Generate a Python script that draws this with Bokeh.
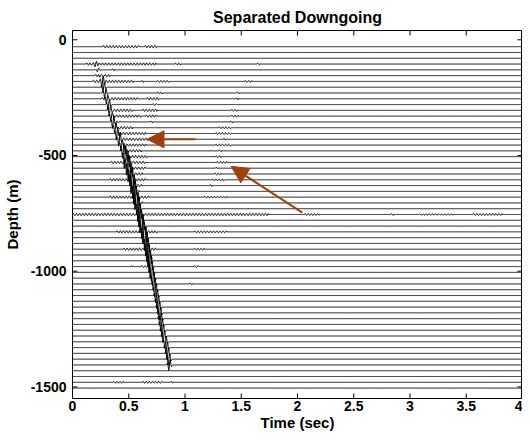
import numpy as np
from bokeh.plotting import figure
from bokeh.models import Arrow, NormalHead, FixedTicker, Range1d, ColumnDataSource
from bokeh.embed import file_html
from bokeh.resources import INLINE

# ---------------- data ----------------
depths = [-30, -55, -80, -105, -130, -155, -180, -205, -230, -255,
          -280, -305, -330, -355, -380, -405, -430, -455, -480, -505,
          -530, -555, -580, -605, -630, -655, -680, -705, -730, -755,
          -780, -805, -830, -855, -880, -905, -930, -955, -980, -1005,
          -1030, -1055, -1080, -1105, -1130, -1155, -1180, -1205, -1230, -1255,
          -1280, -1305, -1330, -1355, -1380, -1405, -1430, -1455, -1480, -1505]

# first-arrival time (s) on each trace and its amplitude (m)
direct_times = [0.0, 0.0, 0.0, 0.20, 0.22, 0.24, 0.26, 0.27, 0.285, 0.30,
                0.315, 0.325, 0.34, 0.355, 0.375, 0.39, 0.41, 0.43, 0.445, 0.46,
                0.48, 0.495, 0.51, 0.52, 0.535, 0.545, 0.555, 0.57, 0.58, 0.59,
                0.60, 0.615, 0.625, 0.64, 0.65, 0.66, 0.67, 0.68, 0.69, 0.70,
                0.71, 0.72, 0.73, 0.74, 0.75, 0.76, 0.77, 0.775, 0.785, 0.795,
                0.805, 0.82, 0.83, 0.84, 0.85, 0.855, 0.0, 0.0, 0.0, 0.0]
direct_amps = [0, 0, 0, 8, 8, 8, 22, 22, 22, 22,
               24, 24, 24, 28, 28, 28, 30, 30, 32, 50,
               55, 55, 55, 55, 55, 55, 55, 55, 55, 55,
               55, 55, 55, 55, 55, 55, 50, 50, 50, 36,
               34, 32, 32, 32, 32, 32, 30, 30, 30, 30,
               28, 28, 28, 28, 26, 24, 0, 0, 0, 0]

# normalised wavelet samples (every 4 ms)
wavelet_shape = [0, 0.15, 0.35, 0.2, -0.4, -1.0, -0.6, 0.3, 0.9, 0.7, 0.1, -0.3, -0.25, -0.1, 0]

# weak ringing: (trace index, start s, end s, amplitude m)
ripples = [
    (0, 0.27, 0.59, 5), (0, 0.64, 0.75, 5),
    (3, 0.12, 0.74, 5), (3, 0.91, 0.96, 4), (3, 1.64, 1.67, 4),
    (4, 0.35, 0.37, 4),
    (5, 0.20, 0.33, 5),
    (6, 0.18, 0.54, 5), (6, 0.61, 0.63, 4), (6, 0.75, 0.86, 4), (6, 1.53, 1.59, 4),
    (8, 0.75, 0.80, 4), (8, 1.46, 1.48, 4),
    (9, 0.26, 0.58, 5), (9, 0.66, 0.77, 5), (9, 1.45, 1.47, 4),
    (10, 0.71, 0.75, 4),
    (11, 0.31, 0.53, 5), (11, 0.62, 0.75, 5), (11, 1.41, 1.46, 4),
    (12, 0.33, 0.61, 5), (12, 0.65, 0.74, 5), (12, 1.41, 1.47, 4),
    (13, 0.36, 0.43, 4), (13, 0.69, 0.71, 4), (13, 1.40, 1.42, 4),
    (14, 0.37, 0.53, 5), (14, 1.30, 1.41, 4),
    (15, 0.39, 0.65, 5), (15, 1.27, 1.41, 4),
    (16, 0.42, 0.67, 5), (16, 1.34, 1.36, 4),
    (17, 0.42, 0.65, 5), (17, 1.27, 1.41, 4),
    (18, 0.45, 0.61, 5), (18, 1.30, 1.33, 4),
    (19, 0.47, 0.66, 5), (19, 1.27, 1.32, 4),
    (20, 0.34, 0.65, 5), (20, 1.28, 1.37, 4),
    (21, 0.47, 0.65, 5), (21, 1.27, 1.28, 4),
    (22, 0.50, 0.62, 5), (22, 1.26, 1.32, 4),
    (23, 0.33, 0.65, 5), (23, 1.24, 1.35, 4),
    (24, 0.52, 0.62, 5), (24, 1.22, 1.24, 4),
    (25, 0.53, 0.59, 5),
    (26, 0.33, 0.68, 5), (26, 1.17, 1.37, 4),
    (27, 0.53, 0.62, 5),
    (29, 0.0, 1.74, 5), (29, 2.06, 2.19, 4), (29, 2.83, 2.86, 4), (29, 3.08, 3.38, 3), (29, 3.56, 3.82, 4),
    (32, 0.39, 0.75, 5), (32, 1.08, 1.37, 4),
    (35, 0.45, 0.74, 5), (35, 1.08, 1.17, 4),
    (38, 0.52, 0.53, 4), (38, 0.61, 0.67, 4), (38, 1.08, 1.12, 4),
    (41, 1.04, 1.06, 4),
    (58, 0.36, 0.46, 4), (58, 0.62, 0.80, 4), (58, 0.87, 0.89, 4),
]

x_min, x_max = 0, 4
y_min, y_max = -1550, 40
x_ticks = [0, 0.5, 1, 1.5, 2, 2.5, 3, 3.5, 4]
x_tick_labels = ["0", "0.5", "1", "1.5", "2", "2.5", "3", "3.5", "4"]
y_ticks = [0, -500, -1000, -1500]
y_tick_labels = ["0", "-500", "-1000", "-1500"]

# annotation arrows: (x_start, y_start, x_end, y_end)
arrows = [(1.093, -430, 0.662, -430), (2.043, -747, 1.41, -547)]
arrow_color = "#a0400c"

# ---------------- build traces ----------------
t = np.arange(0, 4.0001, 0.0025)
wl = np.array(wavelet_shape, dtype=float)
wl_t = np.arange(len(wl)) * 0.004 - 0.02
xs, ys = [], []
for i, d in enumerate(depths):
    y = np.zeros_like(t)
    if direct_amps[i] > 0:
        y += direct_amps[i] * np.interp(t - direct_times[i], wl_t, wl, left=0, right=0)
    xs.append(t)
    ys.append(d + y)
for (i, t0, t1, a) in ripples:
    m = (t >= t0) & (t <= t1)
    ys[i][m] += a * np.sin(2 * np.pi * (t[m] - t0) / 0.028)

src = ColumnDataSource(dict(xs=xs, ys=ys))

FONT = "Liberation Sans"
p = figure(width=522, height=433, x_range=Range1d(x_min, x_max), y_range=Range1d(y_min, y_max),
           output_backend="svg", toolbar_location=None, title="Separated Downgoing",
           min_border_left=70, min_border_right=0, min_border_top=30, min_border_bottom=33)
p.title.text_font = FONT
p.title.text_font_size = "16px"
p.title.text_font_style = "bold"
p.title.align = "center"
p.title.text_color = "black"

p.multi_line("xs", "ys", source=src, line_color="black", line_width=1)

for a in arrows:
    p.add_layout(Arrow(x_start=a[0], y_start=a[1], x_end=a[2], y_end=a[3],
                       line_color=arrow_color, line_width=2,
                       end=NormalHead(size=17, fill_color=arrow_color, line_color=arrow_color)))

# inward tick marks on all four sides of the box
p.ray(x=x_ticks, y=[y_min] * len(x_ticks), length=5, length_units="screen", angle=np.pi / 2, line_color="black")
p.ray(x=x_ticks, y=[y_max] * len(x_ticks), length=5, length_units="screen", angle=-np.pi / 2, line_color="black")
p.ray(x=[x_min] * len(y_ticks), y=y_ticks, length=5, length_units="screen", angle=0, line_color="black")
p.ray(x=[x_max] * len(y_ticks), y=y_ticks, length=5, length_units="screen", angle=np.pi, line_color="black")

p.xgrid.visible = False
p.ygrid.visible = False
p.outline_line_color = "black"
p.outline_line_alpha = 1
p.background_fill_color = "white"
p.border_fill_color = "white"

for ax, ticks, labels in ((p.xaxis[0], x_ticks, x_tick_labels), (p.yaxis[0], y_ticks, y_tick_labels)):
    ax.ticker = FixedTicker(ticks=ticks)
    ax.major_label_overrides = {tk: lb for tk, lb in zip(ticks, labels)}
    ax.major_tick_in = 0
    ax.major_tick_out = 0
    ax.minor_tick_line_color = None
    ax.axis_line_color = "black"
    ax.major_label_text_font = FONT
    ax.major_label_text_font_size = "14px"
    ax.major_label_text_font_style = "bold"
    ax.major_label_text_color = "black"
    ax.axis_label_text_font = FONT
    ax.axis_label_text_font_size = "15px"
    ax.axis_label_text_font_style = "bold"
    ax.axis_label_text_color = "black"

p.xaxis.major_label_standoff = 2
p.yaxis.major_label_standoff = 6
p.xaxis.axis_label = "Time (sec)"
p.yaxis.axis_label = "Depth (m)"
p.xaxis.axis_label_standoff = 0
p.yaxis.axis_label_standoff = 7

open("out.html", "w").write(file_html(p, INLINE))
